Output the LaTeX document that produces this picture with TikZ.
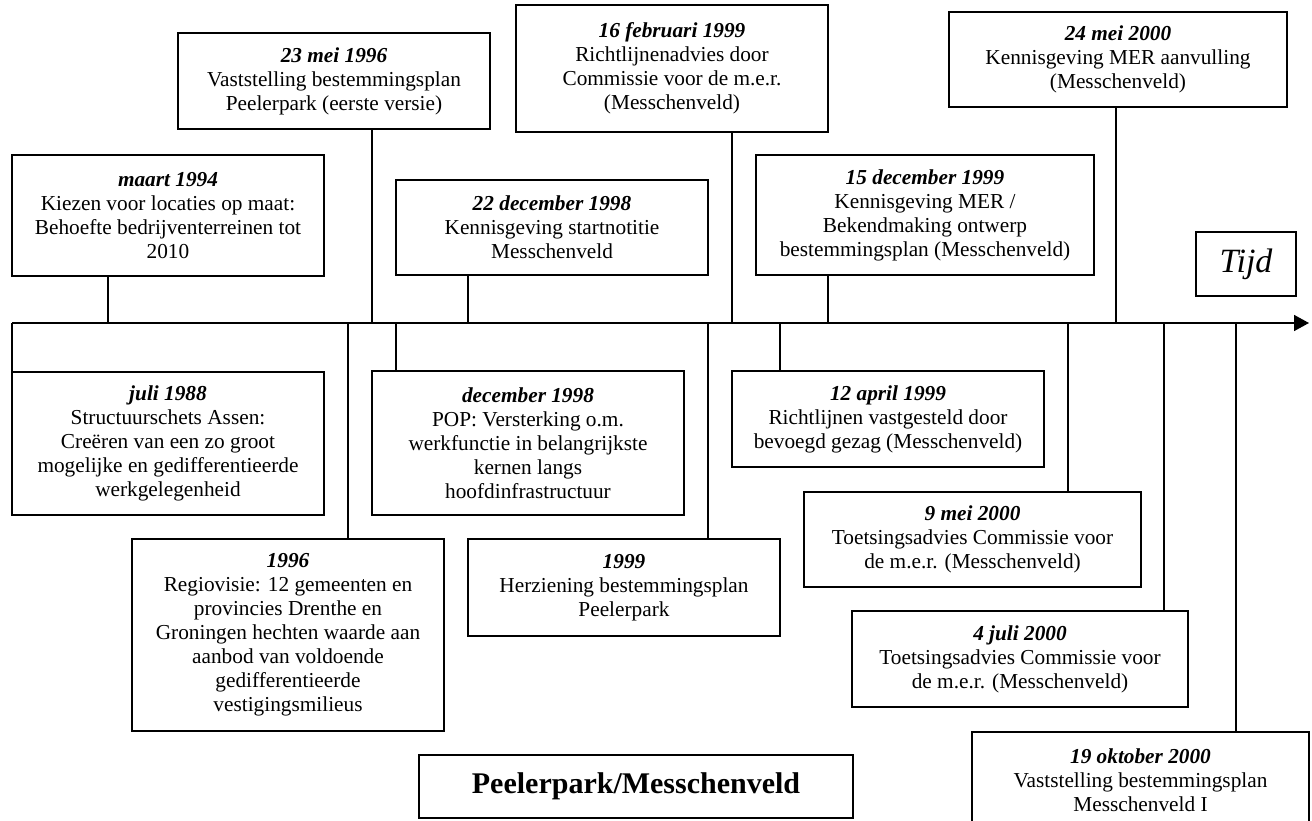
\documentclass[tikz,border=0pt]{standalone}
\usepackage{fontspec}
\setmainfont{Liberation Serif}
\usetikzlibrary{arrows.meta}

\tikzset{
  event/.style={draw, line width=1.6pt, align=center, inner sep=0pt,
    minimum width=312pt, font=\fontsize{21.3}{24}\selectfont},
  link/.style={line width=1.6pt},
}
\newcommand{\when}[1]{\textbf{\textit{#1}}}

\begin{document}
\begin{tikzpicture}[x=1pt, y=-1pt]
  \useasboundingbox (0,0) rectangle (1312,821);
  \clip (0,0) rectangle (1312,821);

  % events above the time axis
  \node[event, minimum height=121pt] (maart94) at (168,215.5)
    {\when{maart 1994}\\Kiezen voor locaties op maat:\\Behoefte bedrijventerreinen tot\\2010};
  \node[event, minimum height=96pt] (mei96) at (334,81)
    {\when{23 mei 1996}\\Vaststelling bestemmingsplan\\Peelerpark (eerste versie)};
  \node[event, minimum height=95pt] (dec98k) at (552,227.5)
    {\when{22 december 1998}\\Kennisgeving startnotitie\\Messchenveld};
  \node[event, minimum height=127pt] (feb99) at (672,68.5)
    {\when{16 februari 1999}\\Richtlijnenadvies door\\Commissie voor de m.e.r.\\(Messchenveld)};
  \node[event, minimum width=338pt, minimum height=120pt] (dec99) at (925,215)
    {\when{15 december 1999}\\Kennisgeving MER /\\Bekendmaking ontwerp\\bestemmingsplan (Messchenveld)};
  \node[event, minimum width=338pt, minimum height=95pt] (mei00k) at (1118,59.5)
    {\when{24 mei 2000}\\Kennisgeving MER aanvulling\\(Messchenveld)};

  % events below the time axis
  \node[event, minimum height=143pt] (jul88) at (168,443.5)
    {\when{juli 1988}\\Structuurschets Assen:\\Creëren van een zo groot\\mogelijke en gedifferentieerde\\werkgelegenheid};
  \node[event, minimum height=192pt] (regio96) at (288,635)
    {\when{1996}\\Regiovisie: 12 gemeenten en\\provincies Drenthe en\\Groningen hechten waarde aan\\aanbod van voldoende\\gedifferentieerde\\vestigingsmilieus};
  \node[event, minimum height=144pt] (pop98) at (528,443)
    {\when{december 1998}\\POP: Versterking o.m.\\werkfunctie in belangrijkste\\kernen langs\\hoofdinfrastructuur};
  \node[event, minimum height=97pt] (herz99) at (624,587.5)
    {\when{1999}\\Herziening bestemmingsplan\\Peelerpark};
  \node[event, minimum height=96pt] (apr99) at (888,419)
    {\when{12 april 1999}\\Richtlijnen vastgesteld door\\bevoegd gezag (Messchenveld)};
  \node[event, minimum width=337pt, minimum height=95pt] (mei00t) at (972.5,539.5)
    {\when{9 mei 2000}\\Toetsingsadvies Commissie voor\\de m.e.r. (Messchenveld)};
  \node[event, minimum width=336pt, minimum height=96pt] (jul00) at (1020,659)
    {\when{4 juli 2000}\\Toetsingsadvies Commissie voor\\de m.e.r. (Messchenveld)};
  \node[event, minimum width=337pt, minimum height=96pt] (okt00) at (1140.5,780)
    {\when{19 oktober 2000}\\Vaststelling bestemmingsplan\\Messchenveld I};

  % axis label and title
  \node[event, minimum width=100pt, minimum height=64pt,
        font=\fontsize{34}{40}\selectfont\itshape] (tijd) at (1246,264) {Tijd};
  \node[event, minimum width=434pt, minimum height=63pt,
        font=\fontsize{30}{36}\selectfont\bfseries] (titel) at (636,786.5)
    {Peelerpark/Messchenveld};

  % time axis
  \coordinate (start) at (12,323);
  \coordinate (end) at (1309,323);
  \draw[link, -{Triangle[length=15pt, width=16pt]}] (start) -- (end);

  % attachment points on the axis
  \foreach \name/\xpos in {a/108, b/372, c/468, d/732, e/828, f/1116,
                           g/348, h/396, i/708, j/780, k/1068, l/1164, m/1236}
    \coordinate (t\name) at (\xpos,323);

  % connectors from the axis to the events
  \draw[link] (ta) -- (ta |- maart94.south);
  \draw[link] (tb) -- (tb |- mei96.south);
  \draw[link] (tc) -- (tc |- dec98k.south);
  \draw[link] (td) -- (td |- feb99.south);
  \draw[link] (te) -- (te |- dec99.south);
  \draw[link] (tf) -- (tf |- mei00k.south);
  \draw[link] (start) -- (start |- jul88.north);
  \draw[link] (tg) -- (tg |- regio96.north);
  \draw[link] (th) -- (th |- pop98.north);
  \draw[link] (ti) -- (ti |- herz99.north);
  \draw[link] (tj) -- (tj |- apr99.north);
  \draw[link] (tk) -- (tk |- mei00t.north);
  \draw[link] (tl) -- (tl |- jul00.north);
  \draw[link] (tm) -- (tm |- okt00.north);
\end{tikzpicture}
\end{document}
